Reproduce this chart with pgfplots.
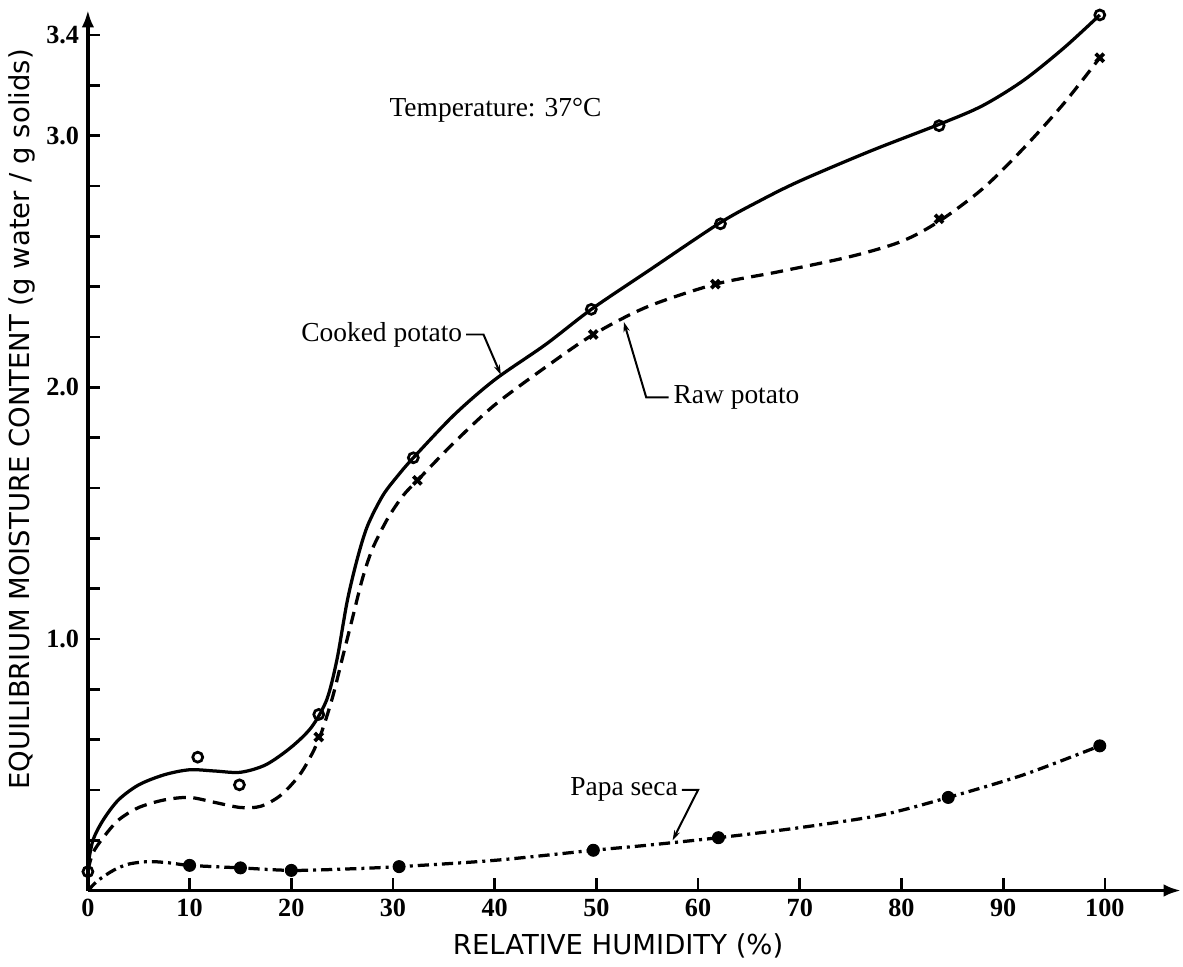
\documentclass[border=0pt]{standalone}
\usepackage{fontspec}
\setmainfont{Liberation Serif}
\setsansfont{DejaVu Sans}
\usepackage{pgfplots}
\pgfplotsset{compat=1.18}
\usetikzlibrary{arrows.meta}

% curves as drawn
\pgfplotstableread{
x y
0 0.10
0.5 0.20
1.5 0.28
3 0.36
5 0.42
7.5 0.46
10 0.48
12.5 0.475
15 0.47
17.5 0.50
20 0.57
22 0.65
23.5 0.76
24.5 0.92
25.5 1.15
26.5 1.32
27.5 1.45
29 1.57
30.5 1.65
32 1.72
36 1.89
40 2.03
45 2.17
49.5 2.31
55 2.46
62 2.65
66 2.74
70 2.82
77 2.94
84 3.05
88 3.12
92 3.22
96 3.35
99.5 3.48
}\cooked
\pgfplotstableread{
x y
0 0.08
0.5 0.15
1.5 0.21
3 0.28
5 0.33
7.5 0.36
10 0.37
12.5 0.35
15 0.33
17 0.335
19 0.38
21 0.47
22.7 0.60
24 0.76
25 0.92
26 1.08
27 1.24
28 1.36
29.5 1.48
31 1.57
32.4 1.63
36 1.78
40 1.93
45 2.08
49.7 2.21
55 2.32
61.7 2.41
68 2.46
75 2.52
80 2.58
83.7 2.66
88 2.79
92 2.95
96 3.13
99.5 3.31
}\raw
\pgfplotstableread{
x y
0 0.0
1 0.04
2.5 0.08
4 0.105
6 0.115
8 0.11
10 0.10
15 0.09
20 0.08
25 0.085
30.6 0.095
40 0.12
49.7 0.16
55 0.18
62 0.21
70 0.25
78 0.30
84.6 0.37
92 0.46
99.5 0.575
}\papa

\begin{document}
\begin{tikzpicture}
\begin{axis}[
  width=438pt, height=352.8pt, scale only axis,
  axis lines=left,
  axis line style={line width=1.5pt, -{Latex[length=7pt,width=5pt]}},
  xmin=0, xmax=107.5, ymin=0, ymax=3.5,
  xtick={0,10,...,100},
  ytick={1,2,3,3.4},
  yticklabels={1.0,2.0,3.0,3.4},
  minor ytick={0.2,0.4,0.6,0.8,1.2,1.4,1.6,1.8,2.2,2.4,2.6,2.8,3.2},
  tick align=inside,
  major tick length=5pt, minor tick length=5pt,
  tick style={line width=1.1pt, black},
  tick label style={font=\fontsize{10.5}{12}\selectfont\bfseries},
  /pgf/number format/assume math mode=true,
  clip=false,
  xlabel={RELATIVE HUMIDITY (\%)},
  ylabel={EQUILIBRIUM MOISTURE CONTENT (g water / g solids)},
  xlabel style={font=\sffamily\fontsize{11}{13}\selectfont, at={(axis description cs:0.485,-0.0625)}, anchor=center},
  ylabel style={font=\sffamily\fontsize{11}{13}\selectfont, at={(axis description cs:-0.0603,0.535)}, anchor=center},
]
% fix the frame to the reference's margins
\path (axis description cs:-0.0804,-0.0771) rectangle (axis description cs:1,1.0113);

\addplot[black, line width=1.3pt, smooth] table {\cooked};
\addplot[black, line width=1.3pt, smooth, dash pattern=on 5pt off 3pt] table {\raw};
\addplot[black, line width=1.3pt, smooth, dash pattern=on 4.5pt off 2pt on 1.2pt off 2pt] table {\papa};

\addplot[only marks, mark=o, mark size=2pt, mark options={fill=white, line width=1.1pt}] coordinates {
(0,0.075) (10.8,0.53) (14.9,0.42) (22.7,0.70) (32,1.72) (49.5,2.31) (62.2,2.65) (83.7,3.04) (99.5,3.48)};
\addplot[only marks, mark=x, mark size=2.3pt, mark options={line width=1.5pt}] coordinates {
(22.7,0.61) (32.4,1.63) (49.7,2.21) (61.7,2.41) (83.7,2.67) (99.5,3.31)};
\addplot[only marks, mark=*, mark size=2.4pt, black] coordinates {
(10,0.10) (15,0.09) (20,0.08) (30.6,0.095) (49.7,0.16) (62,0.21) (84.6,0.37) (99.5,0.575)};

\node[anchor=west, font=\fontsize{11}{13}\selectfont] at (axis cs:28.8,3.10) {Temperature: 37\textdegree C};
\node[anchor=east, font=\fontsize{11}{13}\selectfont, inner sep=1pt] at (axis cs:37.1,2.21) {Cooked potato};
\draw[line width=0.8pt, -{Stealth[length=4pt,width=2.5pt]}] (axis cs:37.2,2.21) -- (axis cs:38.9,2.21) -- (axis cs:40.6,2.05);
\node[anchor=west, font=\fontsize{11}{13}\selectfont, inner sep=1pt] at (axis cs:57.3,1.96) {Raw potato};
\draw[line width=0.8pt, -{Stealth[length=4pt,width=2.5pt]}] (axis cs:57.1,1.96) -- (axis cs:54.9,1.96) -- (axis cs:52.7,2.26);
\node[anchor=east, font=\fontsize{11}{13}\selectfont, inner sep=1pt] at (axis cs:58.3,0.40) {Papa seca};
\draw[line width=0.8pt, -{Stealth[length=4pt,width=2.5pt]}] (axis cs:58.4,0.40) -- (axis cs:60.0,0.40) -- (axis cs:57.5,0.20);
\end{axis}
\end{tikzpicture}
\end{document}
